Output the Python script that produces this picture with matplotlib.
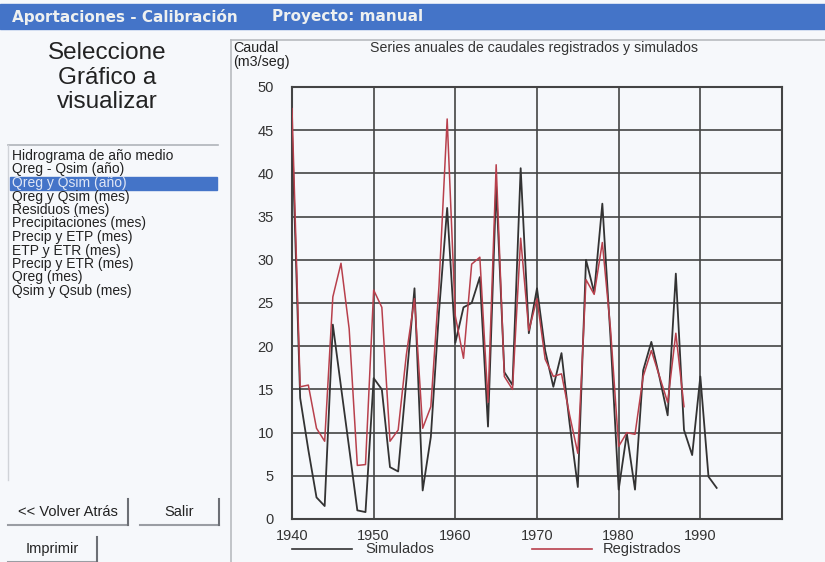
import matplotlib
matplotlib.use("Agg")
import matplotlib.pyplot as plt
from matplotlib.patches import Rectangle

plt.rcParams['font.family'] = ['Liberation Sans', 'DejaVu Sans']

# annual series
years_sim = list(range(1940, 1993))
q_sim = [45, 14, 8, 2.5, 1.5, 22.5, 15.3, 8.2, 1, 0.8,
         16.3, 15, 6, 5.5, 16, 26.7, 3.3, 9.5, 24, 36,
         20.4, 24.5, 25, 28, 10.7, 38.5, 17, 15.5, 40.6, 21.5,
         26.7, 19.5, 15.3, 19.2, 11, 3.7, 30, 26.2, 36.5, 21,
         3.4, 9.9, 3.4, 17.2, 20.5, 16.4, 12, 28.4, 10.3, 7.4,
         16.5, 4.9, 3.6]
years_reg = list(range(1940, 1989))
q_reg = [47.5, 15.3, 15.5, 10.5, 9, 25.7, 29.6, 22, 6.2, 6.3,
         26.5, 24.5, 9, 10.3, 19, 25.5, 10.5, 13, 27, 46.3,
         23.5, 18.6, 29.5, 30.3, 13.5, 41, 16.5, 15, 32.5, 21.8,
         25.5, 18.5, 16.5, 16.8, 12, 7.6, 27.7, 26, 32, 22,
         8.4, 10, 9.8, 16.5, 19.5, 16.5, 13.5, 21.5, 13]

menu_items = ['Hidrograma de año medio', 'Qreg - Qsim (año)', 'Qreg y Qsim (año)',
              'Qreg y Qsim (mes)', 'Residuos (mes)', 'Precipitaciones (mes)',
              'Precip y ETP (mes)', 'ETP y ETR (mes)', 'Precip y ETR (mes)',
              'Qreg (mes)', 'Qsim y Qsub (mes)']
selected = 2

W, H = 825, 562
bg = '#f6f8fb'
fig = plt.figure(figsize=(W / 100, H / 100), dpi=100, facecolor=bg)

# window furniture, drawn in pixel coordinates
ui = fig.add_axes([0, 0, 1, 1])
ui.set_xlim(0, W)
ui.set_ylim(H, 0)
ui.axis('off')

ui.add_patch(Rectangle((0, 4), W, 25, color='#4474c8'))
ui.text(12, 17, 'Aportaciones - Calibración', color='#eef0f0', fontsize=11,
        fontweight='bold', va='center', family='DejaVu Sans')
ui.text(272, 17, 'Proyecto: manual', color='#eef0f0', fontsize=11,
        fontweight='bold', va='center', family='DejaVu Sans')

for i, line in enumerate(['Seleccione', 'Gráfico a', 'visualizar']):
    ui.text(107, 53 + i * 24.5, line, fontsize=17.5, ha='center', va='center',
            color='#222222')

ui.plot([8, 218], [145, 145], color='#b0b4ba', lw=1.2)
ui.plot([8, 8], [145, 480], color='#d0d3d8', lw=1)
for i, item in enumerate(menu_items):
    y = 156 + i * 13.5
    if i == selected:
        ui.add_patch(Rectangle((10, y - 6.5), 207, 13.5, color='#4474c8'))
        ui.text(12, y, item, fontsize=10, va='center', color='#dfe6f5')
    else:
        ui.text(12, y, item, fontsize=10, va='center', color='#222222')

for x0, x1, y0, y1, label in [(8, 128, 499, 525, '<< Volver Atrás'),
                              (140, 219, 499, 525, 'Salir'),
                              (8, 97, 537, 562, 'Imprimir')]:
    ui.plot([x0, x1], [y1, y1], color='#9a9da3', lw=1.5)
    ui.plot([x1, x1], [y0, y1], color='#6c6f75', lw=1.5)
    ui.text((x0 + x1) / 2, (y0 + y1) / 2, label, fontsize=10.5, ha='center',
            va='center', color='#222222')

ui.plot([231, 231], [40, H], color='#b8bbc0', lw=1.2)
ui.plot([231, W], [40, 40], color='#b8bbc0', lw=1.2)

ui.text(233, 48, 'Caudal', fontsize=10.3, va='center', color='#222222')
ui.text(233, 62, '(m3/seg)', fontsize=10.3, va='center', color='#222222')
ui.text(534, 48, 'Series anuales de caudales registrados y simulados',
        fontsize=10.2, ha='center', va='center', color='#333333')

# legend drawn beneath the axes
ui.plot([292, 352], [549, 549], color='#333333', lw=1.2)
ui.plot([532, 592], [549, 549], color='#b8404c', lw=1.2)
ui.text(365, 549, 'Simulados', fontsize=10.5, va='center', color='#333333')
ui.text(603, 549, 'Registrados', fontsize=10.5, va='center', color='#333333')

# chart
ax = fig.add_axes([292 / W, 1 - 519 / H, (782 - 292) / W, (519 - 87) / H])
ax.set_facecolor(bg)
ax.plot(years_sim, q_sim, color='#333333', lw=1.3, zorder=3)
ax.plot(years_reg, q_reg, color='#b8404c', lw=1.1, zorder=4)
ax.set_xlim(1940, 2000)
ax.set_ylim(0, 50)
ax.set_xticks(range(1940, 2001, 10))
ax.set_xticklabels([str(y) for y in range(1940, 2000, 10)] + [''])
ax.set_yticks(range(0, 51, 5))
ax.grid(True, color='#444444', lw=1.2)
ax.tick_params(length=0, labelsize=10.5, colors='#333333')
ax.tick_params(axis='y', pad=13)
ax.tick_params(axis='x', pad=7)
for s in ax.spines.values():
    s.set_color('#444444')
    s.set_linewidth(1.5)

fig.savefig('out.png', dpi=100, facecolor=bg)
